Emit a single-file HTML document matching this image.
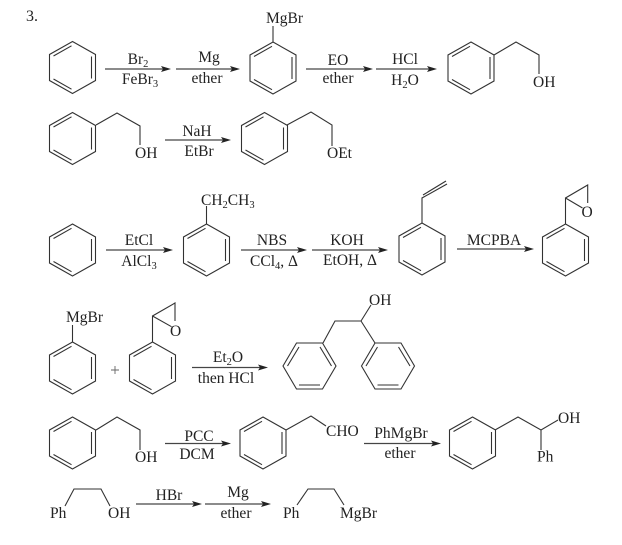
<!DOCTYPE html>
<html><head><meta charset="utf-8"><style>
html,body{margin:0;padding:0;background:#fff}
svg{display:block}
text{font-family:"Liberation Serif",serif;font-size:15.5px;fill:#222}
.m{text-anchor:middle}
.s{font-size:10.5px}
</style></head><body>
<svg width="622" height="545" viewBox="0 0 622 545" xmlns="http://www.w3.org/2000/svg">
<defs>
<g id="a" fill="none" stroke="#333" stroke-width="1.1">
<path d="M0-26L23-13V13L0 26L-23 13V-13Z"/>
<path d="M-19-11.5L-1-21.7M19-11V11M-19 11.5L-1 21.7"/>
</g>
<g id="b" fill="none" stroke="#333" stroke-width="1.1">
<path d="M-26.5 0L-13-23H13L26.5 0L13 23H-13Z"/>
<path d="M-22 0L-10.5-19M10.5-19L22 0M-10.5 19H10.5"/>
</g>
<path id="h" d="M0 0L-10-3L-8 0L-10 3Z" fill="#222"/>
<filter id="soft" x="0" y="0" width="100%" height="100%"><feGaussianBlur stdDeviation="0.3"/></filter>
</defs>

<g filter="url(#soft)">
<text x="26" y="21" style="font-size:16px">3.</text>

<use href="#a" x="72.5" y="67.5"/>
<use href="#a" x="273" y="68"/>
<use href="#a" x="471" y="68"/>
<use href="#a" x="72.5" y="138.5"/>
<use href="#a" x="264.5" y="138.5"/>
<use href="#a" x="72.5" y="250"/>
<use href="#a" x="206.5" y="250"/>
<use href="#a" x="422" y="249"/>
<use href="#a" x="565.5" y="250"/>
<use href="#a" x="72.5" y="368"/>
<use href="#a" x="152.5" y="368"/>
<use href="#b" x="309.5" y="366"/>
<use href="#b" x="388" y="366"/>
<use href="#a" x="72.5" y="443"/>
<use href="#a" x="263" y="443"/>
<use href="#a" x="472.5" y="443"/>

<g fill="none" stroke="#333" stroke-width="1.1">
<path d="M273 42V26"/>
<path d="M494 55L516 42L539 55V74"/>
<path d="M96 125L117 113L140 126V145"/>
<path d="M287 125L311 112L332 125V146"/>
<path d="M206.500 224V206"/>
<path d="M422 223V198L447 184M423 195L446 181"/>
<path d="M565.500 224V198L587.700 185V203M565.500 198L582.500 208"/>
<path d="M72.500 342V325"/>
<path d="M152.500 342V316L175 303V321M152.500 316L171.500 326.700"/>
<path d="M323 343L335 321H361L375 343M361 321L371 305"/>
<path d="M96 430L117 417L140 430V450"/>
<path d="M286 430L311 416L326 426"/>
<path d="M495 430L518 417L541 430L558 420M541 430V450"/>
<path d="M65 506L74 489H101L110 506"/>
<path d="M297 505L308 489H334L344 505"/>
<path d="M105 69H165M176 69H234M306 69H367M376 69H431M165 140H225M106 250H167M241 250H301M312 250H382M457 249H528M192 367.500H262M165 443.500H225M364 443.500H435M136 504H196M205 504H265" stroke="#444" stroke-width="1.2"/>
<path d="M115 366V374M111 370H119" stroke="#666" stroke-width="0.9"/>
</g>

<use href="#h" x="171" y="69"/>
<use href="#h" x="240" y="69"/>
<use href="#h" x="373" y="69"/>
<use href="#h" x="437" y="69"/>
<use href="#h" x="231" y="140"/>
<use href="#h" x="173" y="250"/>
<use href="#h" x="307" y="250"/>
<use href="#h" x="388" y="250"/>
<use href="#h" x="534" y="249"/>
<use href="#h" x="268" y="367.500"/>
<use href="#h" x="231" y="443.500"/>
<use href="#h" x="441" y="443.500"/>
<use href="#h" x="202" y="504"/>
<use href="#h" x="271" y="504"/>

<text x="266" y="23">MgBr</text>
<text x="533" y="87">OH</text>
<text x="135" y="158">OH</text>
<text x="327" y="158">OEt</text>
<text x="201" y="205">CH<tspan class="s" dy="3">2</tspan><tspan dy="-3">CH</tspan><tspan class="s" dy="3">3</tspan></text>
<text x="581.500" y="217">O</text>
<text x="66" y="322">MgBr</text>
<text x="170" y="336">O</text>
<text x="369" y="305">OH</text>
<text x="135" y="462">OH</text>
<text x="326" y="436">CHO</text>
<text x="558" y="423">OH</text>
<text x="537" y="461.500">Ph</text>
<text x="50" y="518">Ph</text>
<text x="108" y="518">OH</text>
<text x="283" y="518">Ph</text>
<text x="340" y="518">MgBr</text>

<text class="m" x="138" y="64">Br<tspan class="s" dy="3">2</tspan></text>
<text class="m" x="140" y="84">FeBr<tspan class="s" dy="3">3</tspan></text>
<text class="m" x="209" y="62">Mg</text>
<text class="m" x="207" y="83">ether</text>
<text class="m" x="338" y="65">EO</text>
<text class="m" x="338" y="83">ether</text>
<text class="m" x="405" y="64">HCl</text>
<text class="m" x="405" y="85">H<tspan class="s" dy="3">2</tspan><tspan dy="-3">O</tspan></text>
<text class="m" x="197" y="136">NaH</text>
<text class="m" x="199" y="156">EtBr</text>
<text class="m" x="139" y="245">EtCl</text>
<text class="m" x="139" y="266">AlCl<tspan class="s" dy="3">3</tspan></text>
<text class="m" x="272" y="245">NBS</text>
<text class="m" x="274" y="266">CCl<tspan class="s" dy="3">4</tspan><tspan dy="-3">, Δ</tspan></text>
<text class="m" x="347" y="245">KOH</text>
<text class="m" x="350" y="265">EtOH, Δ</text>
<text class="m" x="494" y="245">MCPBA</text>
<text class="m" x="228" y="362">Et<tspan class="s" dy="3">2</tspan><tspan dy="-3">O</tspan></text>
<text class="m" x="226" y="383">then HCl</text>
<text class="m" x="199" y="441">PCC</text>
<text class="m" x="197" y="459">DCM</text>
<text class="m" x="401" y="438">PhMgBr</text>
<text class="m" x="400" y="458">ether</text>
<text class="m" x="169" y="500">HBr</text>
<text class="m" x="238" y="497">Mg</text>
<text class="m" x="236" y="518">ether</text>
</g>
</svg>
</body></html>
